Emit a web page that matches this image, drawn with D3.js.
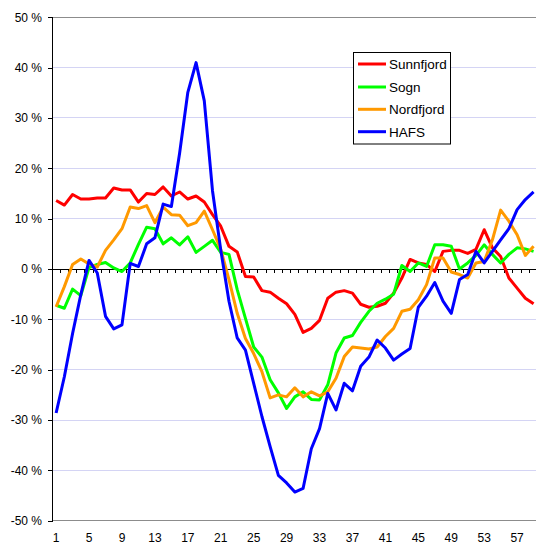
<!DOCTYPE html>
<html>
<head>
<meta charset="utf-8">
<script src="https://cdn.jsdelivr.net/npm/d3@7/dist/d3.min.js"></script>
<style>
  html, body { margin: 0; padding: 0; background: #fff; }
  svg { display: block; font-family: "Liberation Sans", Arial, sans-serif; }
</style>
</head>
<body>
<svg id="chart" width="536" height="544"></svg>
<script>
const categories = d3.range(1, 60);
const sunnfjord = [13.6, 12.7, 14.8, 13.9, 13.9, 14.1, 14.1, 16.1, 15.7, 15.7, 13.3, 15.0, 14.8, 16.3, 14.5, 15.3, 13.9, 14.5, 13.3, 10.8, 8.5, 4.5, 3.4, -1.5, -1.6, -4.3, -4.6, -5.8, -6.9, -9.0, -12.6, -11.8, -10.2, -5.8, -4.6, -4.3, -4.8, -7.0, -7.6, -7.4, -6.8, -4.8, -1.8, 1.9, 1.2, 0.9, -0.5, 3.5, 3.7, 3.7, 3.1, 3.9, 7.8, 4.2, 2.5, -1.8, -3.8, -5.8, -6.9];
const sogn = [-7.2, -7.8, -4.0, -5.3, 0.3, 0.9, 1.3, 0.2, -0.5, 1.2, 4.9, 8.3, 8.0, 5.0, 6.2, 4.8, 6.4, 3.3, 4.5, 5.7, 3.3, 2.9, -4.1, -9.8, -15.5, -17.5, -22.0, -24.6, -27.7, -25.4, -24.4, -25.9, -26.0, -23.0, -16.7, -13.7, -13.2, -10.6, -8.4, -6.8, -6.0, -5.0, 0.7, -0.5, 1.2, 0.5, 4.8, 4.8, 4.5, 0.0, 1.2, 2.7, 4.8, 2.9, 1.2, 2.9, 4.2, 4.0, 3.5];
const nordfjord = [-7.5, -3.5, 0.9, 2.0, 1.0, 0.4, 3.7, 5.8, 8.0, 12.3, 12.0, 12.6, 9.2, 12.3, 10.8, 10.7, 8.6, 9.2, 11.5, 7.8, 3.9, -2.1, -8.8, -13.8, -16.8, -20.4, -25.6, -25.0, -25.4, -23.6, -25.4, -24.4, -25.2, -24.4, -21.7, -17.4, -15.5, -15.7, -15.9, -15.5, -13.4, -11.8, -8.4, -8.0, -6.1, -3.1, 2.2, 2.2, -0.6, -1.1, -1.8, 1.2, 1.5, 5.8, 11.7, 9.5, 6.8, 2.7, 4.5];
const hafs = [-28.6, -21.4, -12.8, -5.1, 1.7, -0.8, -9.4, -11.9, -11.1, 1.1, 0.5, 5.0, 6.2, 12.9, 12.4, 23.0, 35.1, 41.0, 33.4, 15.5, 3.8, -6.4, -13.7, -16.1, -22.7, -29.3, -35.3, -41.0, -42.5, -44.3, -43.6, -35.7, -31.7, -24.7, -28.0, -22.7, -24.2, -19.3, -17.5, -14.1, -15.7, -18.1, -16.9, -15.8, -7.6, -5.4, -2.7, -6.4, -8.8, -2.1, -1.1, 3.5, 1.2, 3.5, 5.8, 8.0, 11.8, 13.8, 15.3];
const seriesNames = ["Sunnfjord", "Sogn", "Nordfjord", "HAFS"];
const seriesColors = ["#ff0000", "#00ff00", "#ff9900", "#0000ff"];
const yTicks = [-50, -40, -30, -20, -10, 0, 10, 20, 30, 40, 50];
const xLabels = [1, 5, 9, 13, 17, 21, 25, 29, 33, 37, 41, 45, 49, 53, 57];

(function () {
const seriesValues = [sunnfjord, sogn, nordfjord, hafs];
const svg = d3.select("#chart");
const pLeft = 52, pTop = 17.3, pBottom = 520.7, step = 8.232;
const pRight = pLeft + categories.length * step;

const x = d3.scalePoint().domain(categories).range([pLeft, pRight]).padding(0.5);
const y = d3.scaleLinear().domain([-50, 50]).range([pBottom, pTop]);

// gridlines
svg.append("g").selectAll("line").data(yTicks.filter(d => d !== 0 && d !== 50 && d !== -50)).join("line")
  .attr("x1", pLeft).attr("x2", 536).attr("y1", d => y(d)).attr("y2", d => y(d))
  .attr("stroke", "#d4d4f4").attr("stroke-width", 1).attr("shape-rendering", "crispEdges");
// plot border top/bottom
svg.append("g").selectAll("line").data([50, -50]).join("line")
  .attr("x1", pLeft).attr("x2", 536).attr("y1", d => y(d)).attr("y2", d => y(d))
  .attr("stroke", "#8c8c8c").attr("stroke-width", 1).attr("shape-rendering", "crispEdges");

// Y axis
const yAxis = d3.axisLeft(y).tickValues(yTicks).tickSize(4).tickPadding(6).tickFormat(d => d + " %");
const gy = svg.append("g").attr("transform", `translate(${pLeft},0)`).call(yAxis);
gy.select(".domain").attr("stroke", "#000").attr("shape-rendering", "crispEdges");
gy.selectAll(".tick line").attr("stroke", "#000").attr("shape-rendering", "crispEdges");
gy.selectAll(".tick text").attr("font-size", 12).attr("fill", "#000")
  .attr("font-family", "'Liberation Sans', Arial, sans-serif");

// X axis line at 0 with boundary ticks
const boundaries = d3.range(0, categories.length + 1).map(k => pLeft + k * step);
svg.append("line").attr("x1", pLeft).attr("x2", 536).attr("y1", y(0)).attr("y2", y(0))
  .attr("stroke", "#000").attr("shape-rendering", "crispEdges");
svg.append("g").selectAll("line").data(boundaries).join("line")
  .attr("x1", d => d).attr("x2", d => d).attr("y1", y(0)).attr("y2", y(0) + 4)
  .attr("stroke", "#000").attr("shape-rendering", "crispEdges");

// X labels at bottom
svg.append("g").selectAll("text").data(xLabels).join("text")
  .attr("x", d => x(d)).attr("y", 541.5).attr("text-anchor", "middle")
  .attr("font-size", 12).attr("fill", "#000").text(d => d);

// lines
const line = d3.line().x((d, i) => x(categories[i])).y(d => y(d));
const lg = svg.append("g");
seriesValues.forEach((vals, si) => {
  lg.append("path").datum(vals).attr("d", line)
    .attr("fill", "none").attr("stroke", seriesColors[si]).attr("stroke-width", 3)
    .attr("stroke-linejoin", "round").attr("stroke-linecap", "butt");
});

// legend
const leg = svg.append("g");
leg.append("rect").attr("x", 353.5).attr("y", 52.5).attr("width", 97).attr("height", 91.5)
  .attr("fill", "#fff").attr("stroke", "#000").attr("stroke-width", 1);
const rowsY = [64, 87, 109.3, 131.7];
seriesNames.forEach((name, i) => {
  leg.append("line").attr("x1", 358).attr("x2", 386).attr("y1", rowsY[i]).attr("y2", rowsY[i])
    .attr("stroke", seriesColors[i]).attr("stroke-width", 3);
  leg.append("text").attr("x", 389).attr("y", rowsY[i] + 4.8).attr("font-size", 13.5)
    .attr("fill", "#000").text(name);
});
})();
</script>
</body>
</html>
